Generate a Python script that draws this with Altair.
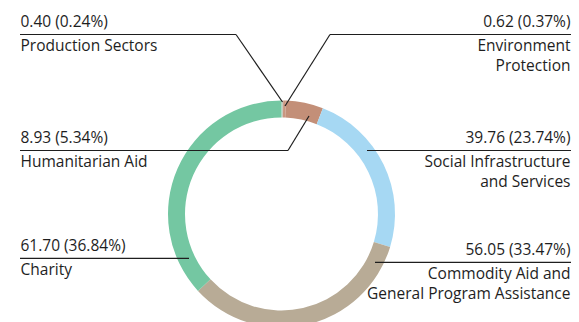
import altair as alt
import pandas as pd

categories = [
    "Production Sectors",
    "Environment Protection",
    "Humanitarian Aid",
    "Social Infrastructure and Services",
    "Commodity Aid and General Program Assistance",
    "Charity",
]
values = [0.40, 0.62, 8.93, 39.76, 56.05, 61.70]
percents = [0.24, 0.37, 5.34, 23.74, 33.47, 36.84]
name_lines = [
    ["Production Sectors"],
    ["Environment", "Protection"],
    ["Humanitarian Aid"],
    ["Social Infrastructure", "and Services"],
    ["Commodity Aid and", "General Program Assistance"],
    ["Charity"],
]
colors = ["#c9c9bd", "#c99680", "#c38f78", "#a6d8f3", "#b8ab96", "#74c7a2"]

FONT = "Open Sans"
FS = 15.5
INK = "#1e1e1e"

df = pd.DataFrame({"category": categories, "value": values, "idx": list(range(len(categories)))})
dummy = pd.DataFrame({"k": [0]})

OX, OY = -8, -8  # picture -> chart coordinates


def seg(x1, y1, x2, y2):
    return alt.Chart(dummy).mark_rule(color=INK, strokeWidth=1.2).encode(
        x=alt.value(x1 + OX), y=alt.value(y1 + OY),
        x2=alt.value(x2 + OX), y2=alt.value(y2 + OY),
    )


def txt(s, x, y, align):
    return alt.Chart(dummy).mark_text(
        font=FONT, fontSize=FS, color=INK, align=align, baseline="alphabetic"
    ).encode(x=alt.value(x + OX), y=alt.value(y + OY), text=alt.value(s))


def label(i, x, line_y, align):
    vs = f"{values[i]:.2f} ({percents[i]:.2f}%)"
    layers = [txt(vs, x, line_y - 7.5, align)]
    for j, ln in enumerate(name_lines[i]):
        layers.append(txt(ln, x, line_y + 16.8 + 20 * j, align))
    return layers


ring = alt.Chart(df).mark_arc(innerRadius=96.5, outerRadius=113.5).encode(
    theta=alt.Theta("value:Q", stack=True),
    order=alt.Order("idx:Q"),
    color=alt.Color("category:N", scale=alt.Scale(domain=categories, range=colors), legend=None),
    x=alt.value(281.5 + OX),
    y=alt.value(214 + OY),
)

LX, RX = 20.5, 570.5
layers = [ring]
# leader lines
layers += [
    seg(20, 34.5, 236, 34.5), seg(236, 34.5, 282.5, 102),
    seg(571, 34.5, 330, 34.5), seg(330, 34.5, 285, 106),
    seg(20, 150.5, 288, 150.5), seg(288, 150.5, 309, 116),
    seg(367, 150.5, 571, 150.5),
    seg(375, 262.3, 571, 262.3),
    seg(20, 258.3, 189, 258.3),
]
layers += label(0, LX, 34.5, "left")
layers += label(1, RX, 34.5, "right")
layers += label(2, LX, 150.5, "left")
layers += label(3, RX, 150.5, "right")
layers += label(4, RX, 262.3, "right")
layers += label(5, LX, 258.3, "left")

chart = alt.layer(*layers).properties(
    width=563, height=314, padding=0, autosize=alt.AutoSizeParams(type="none")
).configure_view(stroke=None)

chart.save("out.html", embed_options={"renderer": "svg", "actions": False})
